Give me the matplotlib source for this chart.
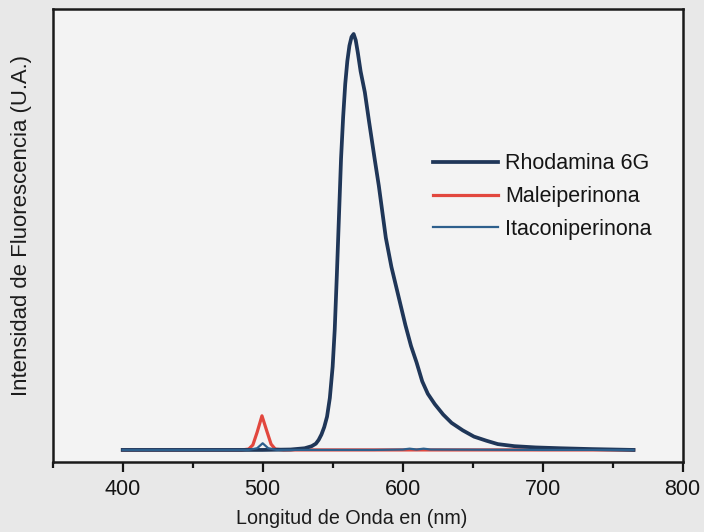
import matplotlib
matplotlib.use("Agg")
import matplotlib.pyplot as plt
from matplotlib.ticker import MultipleLocator

plt.rcParams['font.family'] = ['Liberation Sans', 'DejaVu Sans']

# ---- data ----
rhod_wl = [400, 450, 500, 520, 530, 535, 538, 540, 542, 544, 546, 548, 550, 551.5, 553,
           554.5, 556, 557.5, 559, 560.5, 562, 563.5, 565, 566.5, 568, 570, 573, 576,
           580, 583, 588, 592, 597, 602, 606, 610, 614, 618, 623, 629, 635, 643, 651,
           660, 668, 680, 695, 713, 735, 765]
rhod_int = [0.0, 0.0, 0.0, 0.001, 0.004, 0.009, 0.015, 0.024, 0.037, 0.055, 0.080, 0.125,
            0.20, 0.29, 0.42, 0.56, 0.70, 0.80, 0.88, 0.935, 0.972, 0.993, 1.0, 0.985,
            0.955, 0.91, 0.86, 0.79, 0.70, 0.635, 0.51, 0.44, 0.37, 0.30, 0.25, 0.21,
            0.165, 0.135, 0.11, 0.085, 0.065, 0.047, 0.032, 0.022, 0.014, 0.009, 0.006,
            0.004, 0.002, 0.0]

male_wl = [400, 485, 490, 493, 496, 499.5, 503, 506, 509, 515, 600, 700, 765]
male_int = [0.0, 0.0, 0.002, 0.012, 0.042, 0.082, 0.045, 0.014, 0.002, 0.0, 0.0, 0.0, 0.0]

itac_wl = [400, 490, 496, 500, 504, 510, 580, 600, 605, 610, 615, 620, 700, 765]
itac_int = [0.0, 0.0, 0.004, 0.016, 0.004, 0.0, 0.0, 0.001, 0.003, 0.001, 0.003, 0.001, 0.0, 0.0]

labels = ["Rhodamina 6G", "Maleiperinona", "Itaconiperinona"]
colors = ["#1f3658", "#e2473e", "#2d5f8c"]
xlabel = "Longitud de Onda en (nm)"
ylabel = "Intensidad de Fluorescencia (U.A.)"
xticks = [400, 500, 600, 700, 800]

fig = plt.figure(figsize=(7.04, 5.32), dpi=100, facecolor="#e8e8e8")
ax = fig.add_axes([0.0749, 0.1316, 0.8946, 0.8514])
ax.set_facecolor("#f3f3f3")

ax.plot(rhod_wl, rhod_int, color=colors[0], lw=2.7, label=labels[0], zorder=3)
ax.plot(male_wl, male_int, color=colors[1], lw=2.3, label=labels[1], zorder=2)
ax.plot(itac_wl, itac_int, color=colors[2], lw=1.6, label=labels[2], zorder=4)

ax.set_xlim(350, 800)
ax.set_ylim(-0.029, 1.06)
ax.set_xticks(xticks)
ax.xaxis.set_minor_locator(MultipleLocator(50))
ax.set_yticks([])
ax.tick_params(axis='x', which='major', direction='out', length=7, width=1.6,
               labelsize=15.5, pad=5, colors='#151515')
ax.tick_params(axis='x', which='minor', direction='out', length=4.5, width=1.6,
               colors='#151515')
for s in ax.spines.values():
    s.set_linewidth(1.8)
    s.set_color('#1a1a1a')

ax.set_xlabel(xlabel, fontsize=14.2, color='#1c1c1c')
ax.set_ylabel(ylabel, fontsize=15.9, color='#1c1c1c')
ax.xaxis.set_label_coords(0.475, -0.104)
ax.yaxis.set_label_coords(-0.0334, 0.523)

leg = ax.legend(loc='center left', bbox_to_anchor=(0.604, 0.586), frameon=False,
                fontsize=15.5, handlelength=3.0, handletextpad=0.35,
                labelspacing=0.55, borderpad=0, borderaxespad=0)
for t in leg.get_texts():
    t.set_color('#151515')

fig.savefig("out.png", dpi=100, facecolor=fig.get_facecolor())
